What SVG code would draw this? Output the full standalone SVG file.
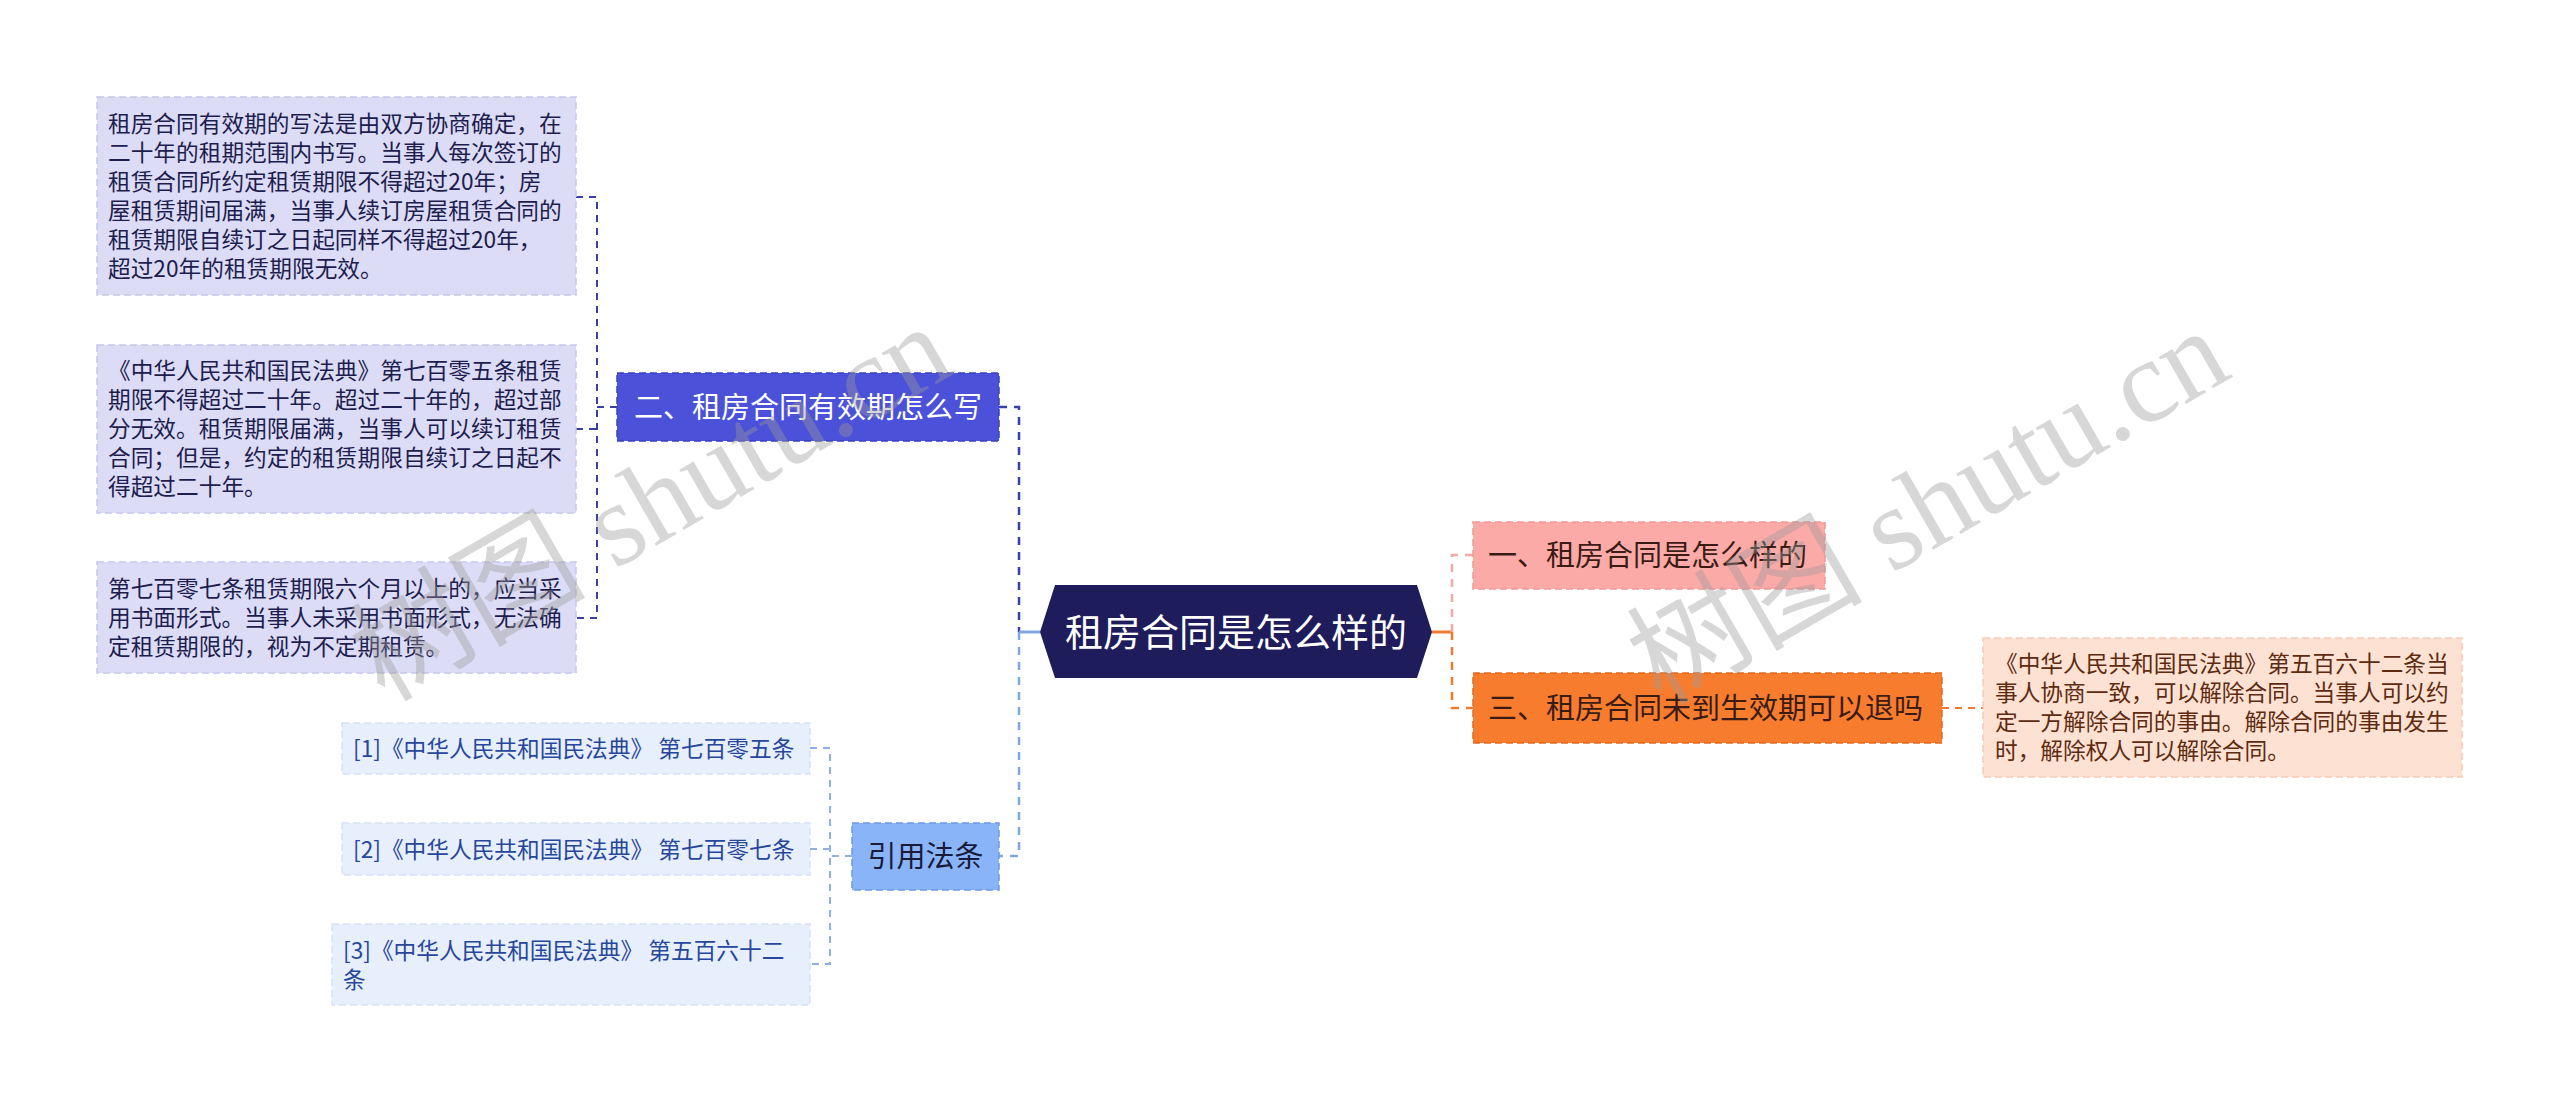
<svg xmlns="http://www.w3.org/2000/svg" width="2560" height="1103" viewBox="0 0 2560 1103">
<style>
text{font-family:"Noto Sans CJK SC","Noto Sans",sans-serif;}
.dt{font-size:22.7px;fill:#1d1d4f;}
.rt{font-size:22.7px;fill:#5e2a10;}
.ct{font-size:22.7px;fill:#27479c;}
.nt{font-size:29px;}
.box{stroke-width:1.5;stroke-dasharray:7 4;}
.ln{fill:none;stroke-width:2.5;stroke-dasharray:8 7;}
.wm{font-family:"Liberation Serif","Noto Sans CJK SC",serif;font-size:118px;fill:#9a9a9a;fill-opacity:0.4;}
</style>
<rect width="2560" height="1103" fill="#ffffff"/>
<g id="connectors">
  <path class="ln" d="M576,197 H597 V618 H576" stroke="#3b3f9e" style="stroke-width:2;stroke-dasharray:7 6"/>
  <path class="ln" d="M576,429 H597" stroke="#3b3f9e" style="stroke-width:2;stroke-dasharray:7 6"/>
  <path class="ln" d="M617,407 H597" stroke="#3b3f9e" style="stroke-width:2;stroke-dasharray:7 6"/>
  <path class="ln" d="M999,407 H1019 V632" stroke="#3a3fb0"/>
  <path class="ln" d="M1019,632 V856 H999" stroke="#7fa6e0"/>
  <path d="M1040,632 H1019" stroke="#7fa6e0" stroke-width="3" fill="none"/>
  <path class="ln" d="M810,748 H830 V964 H810" stroke="#8fb0e0" style="stroke-width:2;stroke-dasharray:7 6"/>
  <path class="ln" d="M810,849 H830" stroke="#8fb0e0" style="stroke-width:2;stroke-dasharray:7 6"/>
  <path class="ln" d="M852,856 H830" stroke="#8fb0e0" style="stroke-width:2;stroke-dasharray:7 6"/>
  <path d="M1432,632 H1452" stroke="#f07a30" stroke-width="3" fill="none"/>
  <path class="ln" d="M1452,632 V555 H1473" stroke="#f0aaa8"/>
  <path class="ln" d="M1452,632 V708 H1473" stroke="#f07a30"/>
  <path class="ln" d="M1942,708 H1983" stroke="#f07a30" style="stroke-width:2;stroke-dasharray:7 6"/>
</g>
<g id="main">
  <polygon points="1040,632 1055,585 1417,585 1432,632 1417,678 1055,678" fill="#1f1c5c"/>
  <text x="1236" y="645.5" text-anchor="middle" style="font-size:38px;fill:#ffffff">租房合同是怎么样的</text>
</g>
<g id="node-2">
  <rect class="box" x="617" y="373" width="382" height="68" fill="#4b51d8" stroke="#3a40c0"/>
  <text class="nt" x="808" y="417.5" text-anchor="middle" fill="#ffffff">二、租房合同有效期怎么写</text>
</g>
<g id="detail-2a">
  <rect class="box" x="97" y="97" width="479" height="198" fill="#dcdcf6" stroke="#c6c6ec"/>
  <text class="dt" x="108"><tspan x="108" y="132">租房合同有效期的写法是由双方协商确定，在</tspan><tspan x="108" y="161">二十年的租期范围内书写。当事人每次签订的</tspan><tspan x="108" y="190">租赁合同所约定租赁期限不得超过20年；房</tspan><tspan x="108" y="219">屋租赁期间届满，当事人续订房屋租赁合同的</tspan><tspan x="108" y="248">租赁期限自续订之日起同样不得超过20年，</tspan><tspan x="108" y="277">超过20年的租赁期限无效。</tspan></text>
</g>
<g id="detail-2b">
  <rect class="box" x="97" y="345" width="479" height="168" fill="#dcdcf6" stroke="#c6c6ec"/>
  <text class="dt"><tspan x="108" y="379">《中华人民共和国民法典》第七百零五条租赁</tspan><tspan x="108" y="408">期限不得超过二十年。超过二十年的，超过部</tspan><tspan x="108" y="437">分无效。租赁期限届满，当事人可以续订租赁</tspan><tspan x="108" y="466">合同；但是，约定的租赁期限自续订之日起不</tspan><tspan x="108" y="495">得超过二十年。</tspan></text>
</g>
<g id="detail-2c">
  <rect class="box" x="97" y="562" width="479" height="111" fill="#dcdcf6" stroke="#c6c6ec"/>
  <text class="dt"><tspan x="108" y="597">第七百零七条租赁期限六个月以上的，应当采</tspan><tspan x="108" y="626">用书面形式。当事人未采用书面形式，无法确</tspan><tspan x="108" y="655">定租赁期限的，视为不定期租赁。</tspan></text>
</g>
<g id="node-ref">
  <rect class="box" x="852" y="823" width="147" height="67" fill="#8ab4f8" stroke="#6c98e6"/>
  <text class="nt" x="925.5" y="866.5" text-anchor="middle" fill="#1a1a3a">引用法条</text>
</g>
<g id="cite-1">
  <rect class="box" x="342" y="723" width="468" height="51" fill="#e8effc" stroke="#d8e2f6"/>
  <text class="ct" x="353" y="756.5">[1]《中华人民共和国民法典》 第七百零五条</text>
</g>
<g id="cite-2">
  <rect class="box" x="342" y="823" width="468" height="52" fill="#e8effc" stroke="#d8e2f6"/>
  <text class="ct" x="353" y="857.5">[2]《中华人民共和国民法典》 第七百零七条</text>
</g>
<g id="cite-3">
  <rect class="box" x="332" y="924" width="478" height="81" fill="#e8effc" stroke="#d8e2f6"/>
  <text class="ct"><tspan x="343" y="958.5">[3]《中华人民共和国民法典》 第五百六十二</tspan><tspan x="343" y="987.5">条</tspan></text>
</g>
<g id="node-1">
  <rect class="box" x="1473" y="522" width="352" height="67" fill="#fcaaa7" stroke="#f09896"/>
  <text class="nt" x="1488" y="565.5" fill="#3a1c14">一、租房合同是怎么样的</text>
</g>
<g id="node-3">
  <rect class="box" x="1473" y="673" width="469" height="70" fill="#f77c2e" stroke="#e86a1c"/>
  <text class="nt" x="1488" y="718.5" fill="#3a1c14">三、租房合同未到生效期可以退吗</text>
</g>
<g id="detail-3">
  <rect class="box" x="1983" y="638" width="479" height="139" fill="#fde2d3" stroke="#f5cbb6"/>
  <text class="rt"><tspan x="1995" y="672">《中华人民共和国民法典》第五百六十二条当</tspan><tspan x="1995" y="701">事人协商一致，可以解除合同。当事人可以约</tspan><tspan x="1995" y="730">定一方解除合同的事由。解除合同的事由发生</tspan><tspan x="1995" y="759">时，解除权人可以解除合同。</tspan></text>
</g>
<g id="watermarks">
  <text class="wm" x="653" y="542" text-anchor="middle" transform="rotate(-30 653 506)">树图 shutu.cn</text>
  <text class="wm" x="1930" y="546" text-anchor="middle" transform="rotate(-30 1930 510)">树图 shutu.cn</text>
</g>
</svg>
